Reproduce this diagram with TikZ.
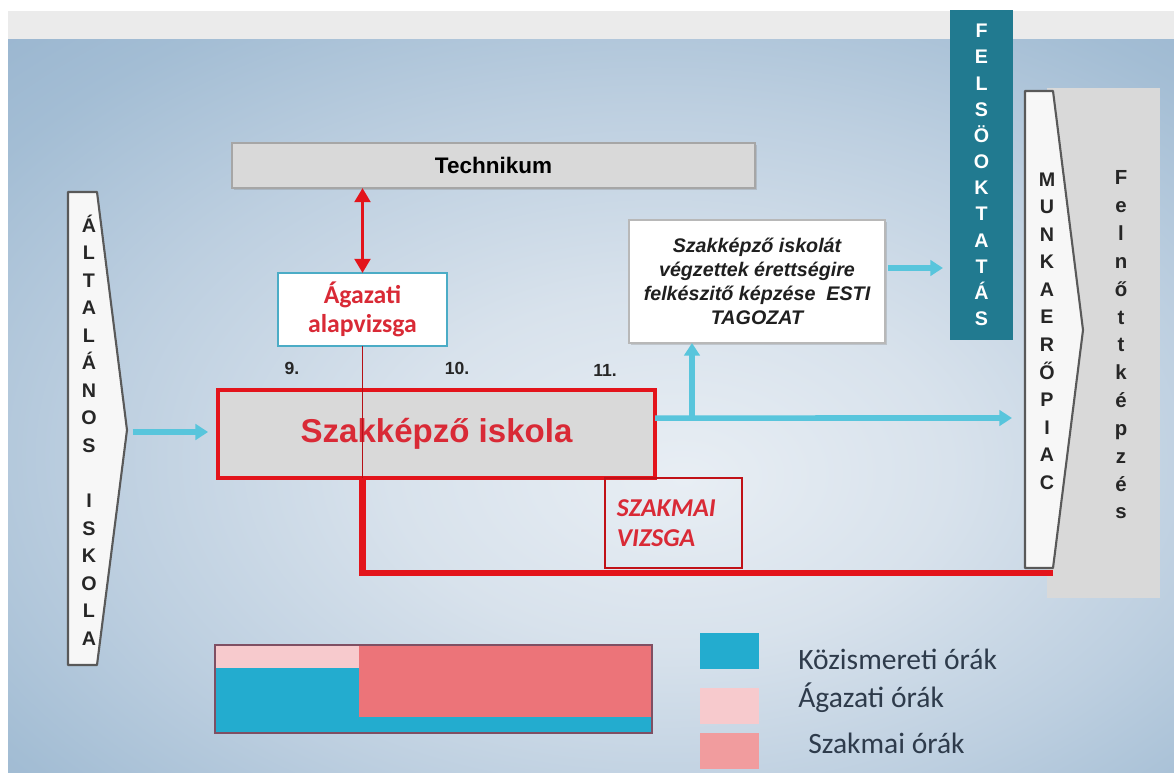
\documentclass[tikz,border=0pt]{standalone}
\usepackage{fontspec}
\setmainfont{Liberation Sans}
\newfontfamily\calibri{Carlito}
\usetikzlibrary{arrows.meta,shadows}

\definecolor{bandgrey}{HTML}{EBEBEB}
\definecolor{bgA}{HTML}{E8EEF4}
\definecolor{bgB}{HTML}{D8E2EC}
\definecolor{bgC}{HTML}{BDCFE0}
\definecolor{bgD}{HTML}{A3BDD4}
\definecolor{bgE}{HTML}{90AECB}
\definecolor{bgF}{HTML}{88A7C4}
\definecolor{techgrey}{HTML}{D9D9D9}
\definecolor{techborder}{HTML}{A6A6A6}
\definecolor{boxred}{HTML}{E3141B}
\definecolor{textred}{HTML}{D92A36}
\definecolor{agborder}{HTML}{4BACC6}
\definecolor{arrcyan}{HTML}{58C5DC}
\definecolor{arrborder}{HTML}{595959}
\definecolor{felsoteal}{HTML}{217A90}
\definecolor{legcyan}{HTML}{23ACCF}
\definecolor{legpink}{HTML}{F7CACD}
\definecolor{legsalmon}{HTML}{EC7479}
\definecolor{legsalmonlt}{HTML}{F19C9E}
\definecolor{legborder}{HTML}{7F4F63}
\definecolor{legtext}{HTML}{2E3B4B}

\pgfdeclareradialshading{bgshade}{\pgfpoint{4bp}{-5bp}}{%
  color(0bp)=(bgA); color(12bp)=(bgB); color(24bp)=(bgC);
  color(34bp)=(bgD); color(46bp)=(bgE); color(80bp)=(bgF)}

\tikzset{
  box_tech/.style = {draw=techborder, line width=1.8pt, fill=techgrey, inner sep=0pt, outer sep=0pt,
    minimum width=13.075cm, minimum height=1.125cm, font=\bfseries\fontsize{16}{19}\selectfont,
    drop shadow={shadow xshift=1.5pt, shadow yshift=-1.5pt, opacity=0.3}},
  box_ag/.style = {draw=agborder, line width=0.9pt, fill=white, inner sep=0pt, outer sep=0pt, align=center,
    minimum width=4.225cm, minimum height=1.825cm, text=textred, font=\calibri\bfseries\fontsize{18.3}{20.5}\selectfont},
  box_szak/.style = {draw=boxred, line width=3.2pt, fill=techgrey, inner sep=0pt, outer sep=0pt,
    minimum width=10.925cm, minimum height=2.2cm, text=textred, font=\bfseries\fontsize{23.5}{28}\selectfont},
  box_vizsga/.style = {draw=boxred!85!black, line width=0.8pt, inner sep=0pt, outer sep=0pt, align=left,
    text width=2.825cm, minimum width=3.425cm, minimum height=2.25cm, text=textred,
    font=\calibri\bfseries\itshape\fontsize{18.3}{21}\selectfont},
  box_esti/.style = {draw=techborder!80, line width=1.4pt, fill=white, inner sep=0pt, outer sep=0pt, align=center,
    minimum width=6.4cm, minimum height=3.075cm, text=black!88, font=\bfseries\itshape\fontsize{14}{17}\selectfont,
    drop shadow={shadow xshift=1.5pt, shadow yshift=-1.5pt, opacity=0.3}},
  box_felso/.style = {fill=felsoteal, inner sep=0pt, outer sep=0pt, align=center, text=white,
    minimum width=1.575cm, minimum height=8.25cm, font=\bfseries\fontsize{14}{18.6}\selectfont},
  box_felnott/.style = {fill=techgrey, inner sep=0pt, outer sep=0pt, minimum width=2.825cm, minimum height=12.75cm},
  arrowshape/.style = {fill=white!97!black, draw=arrborder, line width=1.5pt, line join=round},
  letters/.style = {align=center, inner sep=0pt, text=black!85, font=\bfseries\fontsize{14}{19.6}\selectfont},
  nums/.style = {inner sep=0pt, text=black!85, font=\bfseries\fontsize{12.5}{14}\selectfont},
  arr_cyan/.style = {draw=arrcyan, line width=4pt, -{Triangle[length=9pt, width=11pt]}},
  arr_red/.style = {draw=boxred, line width=2.8pt, {Triangle[length=10pt, width=11pt]}-{Triangle[length=10pt, width=11pt]}},
  line_red/.style = {draw=boxred, line width=4.5pt},
  thin_red/.style = {draw=boxred!80!black, line width=0.8pt},
  legsq/.style = {inner sep=0pt, minimum width=1.475cm, minimum height=0.9cm},
  leglabel/.style = {anchor=base west, inner sep=0pt, text=legtext, font=\calibri\fontsize{21}{25}\selectfont}
}

\begin{document}
\begin{tikzpicture}[x=0.025cm, y=-0.025cm]
\useasboundingbox (0,0) rectangle (1174,773);
\fill[white] (0,0) rectangle (1174,773);
\fill[bandgrey] (8,11) rectangle (1174,40);
\shade[shading=bgshade] (8,40) rectangle (1174,773);

% right hand side
\node[box_felnott] (felnott) at (1103.5,343) {};
\draw[arrowshape] (1025,91) -- (1053,91) -- (1083,330) -- (1053,568) -- (1025,568) -- cycle;
\node[letters] (munka) at (1047,331) {M\\U\\N\\K\\A\\E\\R\\Ő\\P\\I\\A\\C};
\node[letters, font=\bfseries\fontsize{14.5}{19.8}\selectfont] (felnottTxt) at (1121,345)
  {F\\e\\l\\n\\ő\\t\\t\\k\\é\\p\\z\\é\\s};
\node[box_felso] (felso) at (981.5,175) {F\\E\\L\\S\\Ö\\O\\K\\T\\A\\T\\Á\\S};

% left hand side
\draw[arrowshape] (68,192) -- (97,192) -- (127,430) -- (97,665) -- (68,665) -- cycle;
\coordinate (altip) at (127,432);
\node[letters] (altalanos) at (89,430) {Á\\L\\T\\A\\L\\Á\\N\\O\\S\\[19.6pt]I\\S\\K\\O\\L\\A};

% boxes
\node[box_tech] (techn) at (493.5,165.5) {Technikum};
\node[box_ag] (agazati) at (362.5,309.5) {Ágazati\\alapvizsga};
\node[box_szak] (szakisk) at (436.5,434) {Szakképző iskola};
\node[box_vizsga] (szakmai) at (673.5,523) {SZAKMAI\\VIZSGA};
\node[box_esti] (esti) at (757,281.5) {Szakképző iskolát\\végzettek érettségire\\felkészitő képzése\ \ ESTI\\TAGOZAT};

\node[nums] (n9) at (292,368) {9.};
\node[nums] (n10) at (457,368) {10.};
\node[nums] (n11) at (605,370) {11.};

% connectors
\coordinate (munkain) at (1012,418);
\coordinate (branch) at (692,418);
\coordinate (redend) at (1053,573);
\draw[arr_red] (agazati.north) -- (agazati.north |- techn.south);
\draw[thin_red] (agazati.south) -- (agazati.south |- szakisk.south);
\draw[line_red] (agazati.south |- szakisk.south) |- (redend);
\draw[arr_cyan, shorten <=4pt, shorten >=7pt] (altip) -- (altip -| szakisk.west);
\draw[arr_cyan] ([yshift=11.3pt]szakisk.east) -- (munkain);
\draw[arr_cyan] (branch) -- (branch |- esti.south);
\draw[arr_cyan, shorten <=2pt, shorten >=5pt] ([yshift=9.6pt]esti.east) -- ([yshift=9.6pt]esti.east -| felso.west);

% hours bar
\fill[legcyan] (215,645) rectangle (359,733);
\fill[legpink] (215,645) rectangle (359,668);
\fill[legsalmon] (359,645) rectangle (652,717);
\fill[legcyan] (359,717) rectangle (652,733);
\draw[legborder, line width=0.8pt] (215,645) rectangle (652,733);

% legend
\node[legsq, fill=legcyan] (legkoz) at (729.5,651) {};
\node[legsq, fill=legpink] (legag) at (729.5,706) {};
\node[legsq, fill=legsalmonlt] (legszak) at (729.5,751) {};
\node[leglabel] (labkoz) at (798,669) {Közismereti órák};
\node[leglabel] (labag) at (798,707) {Ágazati órák};
\node[leglabel] (labszak) at (808,753) {Szakmai órák};
\end{tikzpicture}
\end{document}
